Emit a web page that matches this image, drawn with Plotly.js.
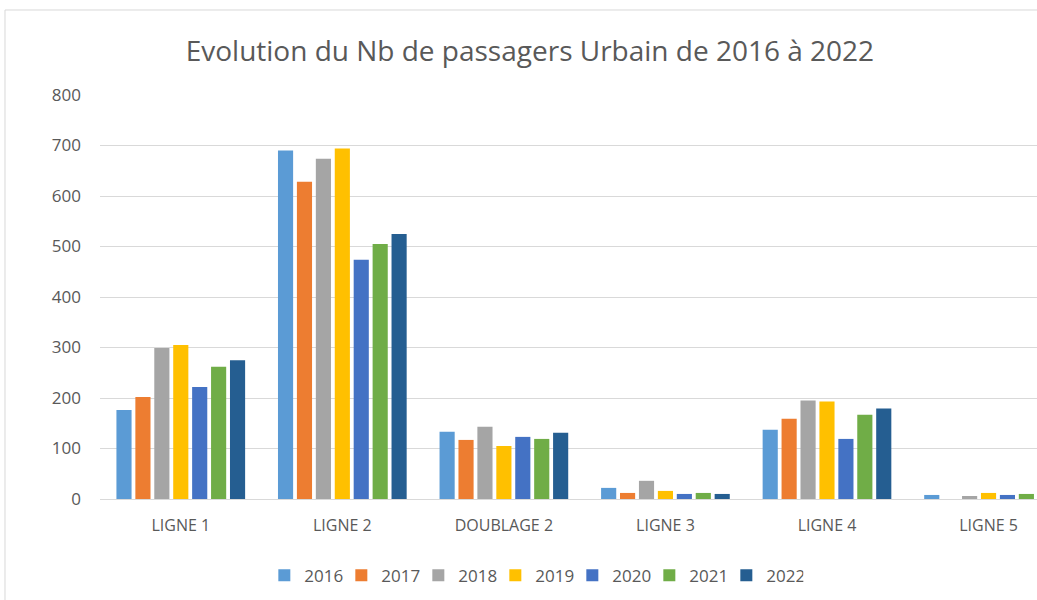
<!DOCTYPE html>
<html><head><meta charset="utf-8">
<script src="https://cdn.plot.ly/plotly-3.0.1.min.js"></script>
<style>
html,body{margin:0;padding:0;overflow:hidden;background:#fff;width:1037px;height:600px;}
#chart{position:absolute;left:0;top:0;width:1037px;height:600px;}
</style></head>
<body>
<div id="chart"></div>
<script>
const categories = ["LIGNE 1","LIGNE 2","DOUBLAGE 2","LIGNE 3","LIGNE 4","LIGNE 5"];
const years = ["2016","2017","2018","2019","2020","2021","2022"];
const v2016 = [176, 690, 133, 22, 137, 8];
const v2017 = [202, 628, 117, 12, 159, 0];
const v2018 = [299, 674, 143, 36, 195, 6];
const v2019 = [305, 694, 105, 16, 193, 12];
const v2020 = [222, 474, 123, 10, 119, 8];
const v2021 = [262, 505, 119, 12, 167, 10];
const v2022 = [275, 525, 131, 10, 179, 8];
const seriesValues = [v2016, v2017, v2018, v2019, v2020, v2021, v2022];
const colors = ["#5B9BD5","#ED7D31","#A5A5A5","#FFC000","#4472C4","#70AD47","#255E91"];

const traces = years.map((y,i)=>({
  type:"bar", name:y, x:categories, y:seriesValues[i],
  marker:{color:colors[i]}, hoverinfo:"x+y+name"
}));

const layout = {
  width:1037, height:600,
  paper_bgcolor:"#fff", plot_bgcolor:"rgba(0,0,0,0)",
  margin:{l:100, r:0, t:95, b:101},
  font:{family:"Open Sans, sans-serif", color:"#595959"},
  title:{text:"Evolution du Nb de passagers Urbain de 2016 à 2022",
    x:0.511, xref:"container", xanchor:"center", y:0.915, yref:"container", yanchor:"middle",
    font:{size:28, color:"#595959", family:"Open Sans, sans-serif"}},
  barmode:"group", bargap:0.18, bargroupgap:0.2,
  xaxis:{type:"category", range:[-0.5,5.3], showgrid:false, showline:true, linecolor:"#d9d9d9", linewidth:1,
    ticks:"", ticklabelstandoff:12, tickfont:{size:16, color:"#595959"}, fixedrange:true},
  yaxis:{range:[0,800], dtick:100, showgrid:true, gridcolor:"#d9d9d9", gridwidth:1, zeroline:false,
    ticks:"", ticklabelstandoff:18, tickfont:{size:17, color:"#595959"}, fixedrange:true},
  legend:{orientation:"h", x:0.463, xanchor:"center", y:-0.19, yanchor:"middle",
    font:{size:17, color:"#595959"}, itemwidth:30, entrywidth:32, entrywidthmode:"pixels", traceorder:"normal"},
  shapes:[
    {type:"line", xref:"paper", yref:"paper", x0:-0.1014, x1:1.3, y0:1.2104, y1:1.2104,
      line:{color:"#d9d9d9", width:1}, layer:"below"},
    {type:"line", xref:"paper", yref:"paper", x0:-0.1014, x1:-0.1014, y0:-0.5, y1:1.2104,
      line:{color:"#d9d9d9", width:1}, layer:"below"}
  ],
  showlegend:true
};
Plotly.newPlot("chart", traces, layout, {displayModeBar:false});
</script>
</body></html>
